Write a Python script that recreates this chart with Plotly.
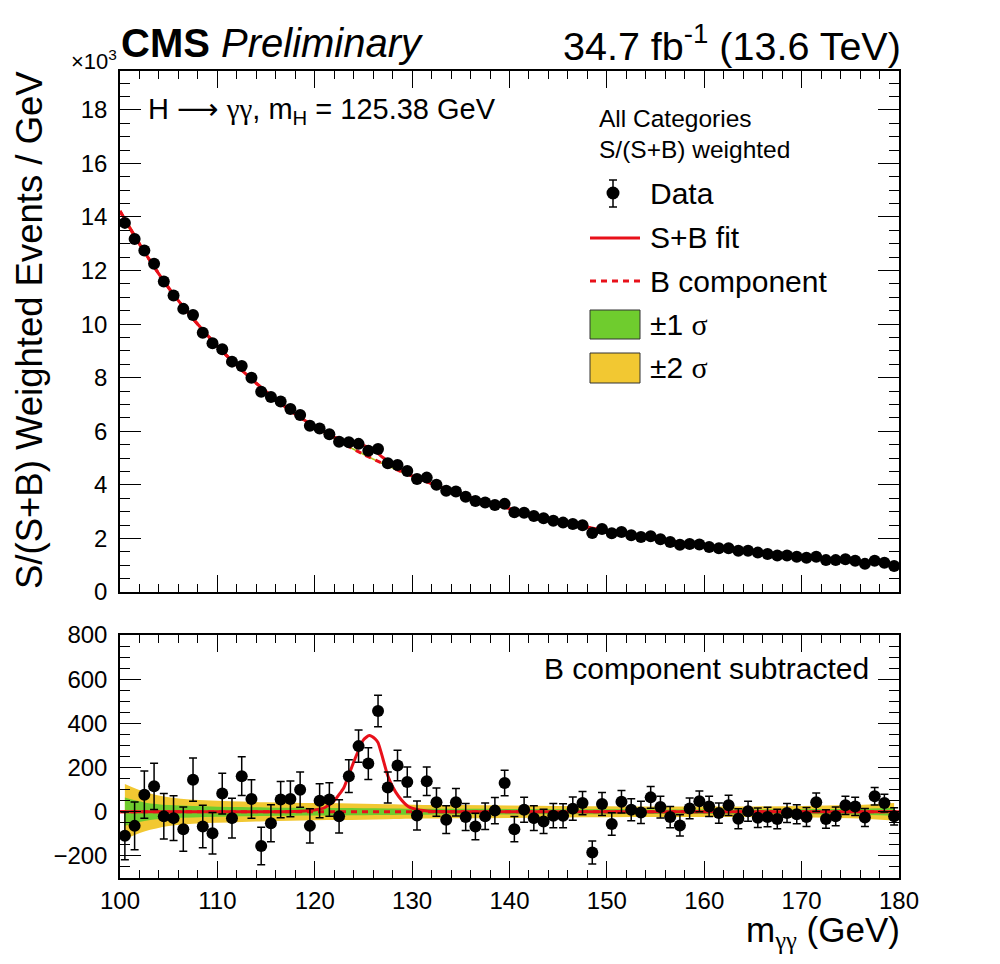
import plotly.graph_objects as go

# ---------------- data ----------------
mass = [100.5 + i for i in range(80)]  # 1 GeV bin centres

data_top = [13.78, 13.18, 12.75, 12.25, 11.59, 11.07, 10.57, 10.34, 9.68, 9.29,
            9.06, 8.60, 8.44, 8.00, 7.48, 7.28, 7.11, 6.83, 6.61, 6.21,
            6.10, 5.89, 5.61, 5.59, 5.53, 5.27, 5.34, 4.81, 4.74, 4.52,
            4.22, 4.27, 4.00, 3.78, 3.75, 3.56, 3.40, 3.34, 3.25, 3.29,
            2.98, 2.96, 2.84, 2.75, 2.66, 2.59, 2.54, 2.49, 2.20, 2.35,
            2.19, 2.24, 2.12, 2.05, 2.08, 1.97, 1.87, 1.76, 1.79, 1.77,
            1.68, 1.63, 1.63, 1.54, 1.54, 1.47, 1.42, 1.36, 1.36, 1.32,
            1.28, 1.32, 1.19, 1.19, 1.22, 1.17, 1.05, 1.17, 1.09, 0.97]

data_sub = [-109, -64, 77, 115, -21, -29, -79, 145, -67, -97,
            82, -29, 161, 58, -155, -52, 55, 58, 100, -64,
            50, 55, -21, 161, 297, 218, 456, 110, 209, 135,
            -17, 138, 43, -36, 43, -24, -67, -21, 5, 130,
            -79, 9, -29, -44, -18, -18, 14, 39, -185, 35,
            -56, 45, 9, -3, 65, 21, -24, -62, 15, 47,
            24, -6, 29, -32, 2, -27, -24, -33, -6, -11,
            -24, 43, -33, -21, 29, 24, -26, 70, 39, -21]

data_err = [108, 108, 107, 105, 103, 101, 100, 98, 96, 94,
            92, 90, 88, 87, 85, 84, 82, 81, 80, 78,
            77, 76, 75, 74, 73, 72, 71, 70, 69, 68,
            66, 65, 64, 63, 62, 61, 60, 60, 59, 58,
            57, 57, 56, 55, 55, 54, 53, 53, 52, 52,
            51, 51, 50, 50, 49, 49, 48, 48, 47, 47,
            46, 46, 46, 45, 45, 44, 44, 44, 43, 43,
            43, 42, 42, 42, 41, 41, 41, 40, 40, 39]

# background component (x10^3 events / GeV)
bkg_x = [100, 100.5, 102.5, 105, 107.5, 110, 112.5, 115, 117.5, 120, 122.5, 125,
         127.5, 130, 135, 140, 145, 150, 155, 160, 165, 170, 175, 179.5, 180]
bkg_y = [14.22, 13.90, 12.70, 11.35, 10.20, 9.18, 8.28, 7.48, 6.77, 6.16, 5.63, 5.14,
         4.71, 4.32, 3.65, 3.11, 2.65, 2.28, 1.98, 1.72, 1.51, 1.33, 1.17, 1.04, 1.03]

# uncertainty bands (events / GeV), at bkg_x[1:-1]
band1 = [64, 42, 30, 26, 23, 21, 19, 18, 17, 17, 16, 15, 14, 13, 12, 11, 11, 10, 10, 10, 11, 13, 18]
band2 = [125, 90, 65, 54, 50, 46, 43, 41, 39, 38, 36, 34, 32, 30, 28, 26, 25, 24, 24, 24, 26, 30, 40]

# S+B fit in the upper panel (x10^3)
sb_x = [100, 102.5, 105, 107.5, 110, 112.5, 115, 117.5, 119, 120, 121, 122, 123, 124, 125,
        125.6, 126.2, 127, 128, 129, 130, 131, 132.5, 135, 140, 145, 150, 155, 160, 165,
        170, 175, 180]
sb_y = [14.22, 12.70, 11.35, 10.20, 9.18, 8.28, 7.48, 6.77, 6.40, 6.17, 5.97, 5.78, 5.65,
        5.55, 5.47, 5.38, 5.26, 5.02, 4.75, 4.52, 4.34, 4.19, 3.98, 3.65, 3.11, 2.65, 2.28,
        1.98, 1.72, 1.51, 1.33, 1.17, 1.03]

# S+B fit minus B component (lower panel)
sig_x = [100, 116, 118, 119, 120, 121, 122, 123, 123.4, 124, 124.4, 125, 125.6, 126.2,
         126.5, 127, 127.5, 128, 128.6, 129.6, 130.6, 132, 134, 180]
sig_y = [0, 0, 1, 3, 8, 18, 50, 110, 155, 225, 268, 325, 345, 330, 313, 240, 163, 113,
         70, 24, 9, 2, 0, 0]

RED = "#e8101a"
GREEN = "#6fcc2e"
YELLOW = "#f2c832"
FONT = "Liberation Sans"

band_x = bkg_x[1:-1]
bkg_mid = bkg_y[1:-1]

fig = go.Figure()

# ---------- upper panel ----------
fig.add_trace(go.Scatter(x=band_x, y=[b + e / 1000 for b, e in zip(bkg_mid, band2)],
                         mode="lines", line=dict(width=0, shape="spline"), showlegend=False,
                         hoverinfo="skip", xaxis="x", yaxis="y"))
fig.add_trace(go.Scatter(x=band_x, y=[b - e / 1000 for b, e in zip(bkg_mid, band2)],
                         mode="lines", line=dict(width=0, shape="spline"), fill="tonexty",
                         fillcolor=YELLOW, showlegend=False, hoverinfo="skip", xaxis="x", yaxis="y"))
fig.add_trace(go.Scatter(x=band_x, y=[b + e / 1000 for b, e in zip(bkg_mid, band1)],
                         mode="lines", line=dict(width=0, shape="spline"), showlegend=False,
                         hoverinfo="skip", xaxis="x", yaxis="y"))
fig.add_trace(go.Scatter(x=band_x, y=[b - e / 1000 for b, e in zip(bkg_mid, band1)],
                         mode="lines", line=dict(width=0, shape="spline"), fill="tonexty",
                         fillcolor=GREEN, showlegend=False, hoverinfo="skip", xaxis="x", yaxis="y"))
fig.add_trace(go.Scatter(x=bkg_x, y=bkg_y, mode="lines",
                         line=dict(color=RED, width=3, dash="6px,5px", shape="spline", smoothing=0.8),
                         showlegend=False, xaxis="x", yaxis="y"))
fig.add_trace(go.Scatter(x=sb_x, y=sb_y, mode="lines",
                         line=dict(color=RED, width=3, shape="spline", smoothing=0.8),
                         showlegend=False, xaxis="x", yaxis="y"))
fig.add_trace(go.Scatter(x=mass, y=data_top, mode="markers",
                         marker=dict(color="black", size=12),
                         error_y=dict(type="data", array=[e / 1000 for e in data_err],
                                      color="black", thickness=1.5, width=4),
                         showlegend=False, xaxis="x", yaxis="y"))

# ---------- lower panel ----------
zero_line = [b - b for b in bkg_y]
fig.add_trace(go.Scatter(x=band_x, y=band2, mode="lines", line=dict(width=0, shape="spline"),
                         showlegend=False, hoverinfo="skip", xaxis="x2", yaxis="y2"))
fig.add_trace(go.Scatter(x=band_x, y=[-e for e in band2], mode="lines",
                         line=dict(width=0, shape="spline"), fill="tonexty", fillcolor=YELLOW,
                         showlegend=False, hoverinfo="skip", xaxis="x2", yaxis="y2"))
fig.add_trace(go.Scatter(x=band_x, y=band1, mode="lines", line=dict(width=0, shape="spline"),
                         showlegend=False, hoverinfo="skip", xaxis="x2", yaxis="y2"))
fig.add_trace(go.Scatter(x=band_x, y=[-e for e in band1], mode="lines",
                         line=dict(width=0, shape="spline"), fill="tonexty", fillcolor=GREEN,
                         showlegend=False, hoverinfo="skip", xaxis="x2", yaxis="y2"))
fig.add_trace(go.Scatter(x=bkg_x, y=zero_line, mode="lines",
                         line=dict(color=RED, width=3, dash="6px,5px"),
                         showlegend=False, xaxis="x2", yaxis="y2"))
fig.add_trace(go.Scatter(x=sig_x, y=sig_y, mode="lines",
                         line=dict(color=RED, width=3, shape="spline", smoothing=0.6),
                         showlegend=False, xaxis="x2", yaxis="y2"))
fig.add_trace(go.Scatter(x=mass, y=data_sub, mode="markers",
                         marker=dict(color="black", size=12),
                         error_y=dict(type="data", array=data_err, color="black",
                                      thickness=1.5, width=4),
                         showlegend=False, xaxis="x2", yaxis="y2"))

# ---------- layout ----------
# page pixel positions of the frame (page has an 8px body margin)
OFF = 8
L, R, T, B = 120, 899, 71, 878
W_, H_ = R - L, B - T
FIG_W, FIG_H = 1000 - OFF, 964 - OFF


def fx(p):
    return (p - L) / W_


def fy(p):
    return (B - p) / H_


top_dom = [fy(592), 1.0]
bot_dom = [0.0, fy(635)]

axis_common = dict(showline=True, linecolor="black", linewidth=1.5, mirror="allticks",
                   ticks="inside", tickcolor="black", tickwidth=1.3, showgrid=False,
                   zeroline=False, tickfont=dict(family=FONT, size=24, color="black"))

fig.update_layout(
    width=FIG_W, height=FIG_H,
    margin=dict(l=L - OFF, r=FIG_W - (R - OFF), t=T - OFF, b=FIG_H - (B - OFF)),
    paper_bgcolor="white", plot_bgcolor="white",
    showlegend=False,
    font=dict(family=FONT, color="black"),
    xaxis=dict(axis_common, domain=[0, 1], range=[100, 180], anchor="y", showticklabels=False,
               tickmode="linear", tick0=100, dtick=10, ticklen=17,
               minor=dict(dtick=2, tick0=100, ticklen=8, ticks="inside", tickcolor="black",
                          tickwidth=1.3, showgrid=False)),
    yaxis=dict(axis_common, domain=top_dom, range=[0, 19.45], anchor="x",
               tickmode="linear", tick0=0, dtick=2, ticklen=21, ticklabelstandoff=6,
               minor=dict(dtick=0.5, tick0=0, ticklen=10, ticks="inside", tickcolor="black",
                          tickwidth=1.3, showgrid=False)),
    xaxis2=dict(axis_common, domain=[0, 1], range=[100, 180], anchor="y2",
                tickmode="linear", tick0=100, dtick=10, ticklen=17, ticklabelstandoff=0,
                minor=dict(dtick=2, tick0=100, ticklen=8, ticks="inside", tickcolor="black",
                           tickwidth=1.3, showgrid=False)),
    yaxis2=dict(axis_common, domain=bot_dom, range=[-300, 800], anchor="x2",
                tickmode="linear", tick0=-200, dtick=200, ticklen=21, ticklabelstandoff=6,
                minor=dict(dtick=50, tick0=0, ticklen=10, ticks="inside", tickcolor="black",
                           tickwidth=1.3, showgrid=False)),
)

SERIF = "font-family:Liberation Serif"
ann = []


def text(x, y, s, size, xanchor="left", yanchor="middle", angle=0):
    ann.append(dict(x=fx(x), y=fy(y), xref="paper", yref="paper", text=s, showarrow=False,
                    xanchor=xanchor, yanchor=yanchor, textangle=angle,
                    font=dict(family=FONT, size=size, color="black")))


text(119, 43, "<b>CMS</b> <i>Preliminary</i>", 40)
text(903, 43, "34.7 fb<sup>-1</sup> (13.6 TeV)", 39.5, xanchor="right")
text(119, 60, "×10<sup>3</sup>", 22, xanchor="right")
text(30, 330, "S/(S+B) Weighted Events / GeV", 36.5, xanchor="center", angle=-90)
text(146, 110, "H <span style='font-family:DejaVu Sans'>⟶</span> "
               f"<span style='{SERIF}'>γγ</span>, m<sub>H</sub> = 125.38 GeV", 29)
text(597, 119, "All Categories", 24.5)
text(597, 149, "S/(S+B) weighted", 24.5)
text(648, 193, "Data", 30)
text(648, 238, "S+B fit", 30)
text(648, 281, "B component", 30)
text(648, 324, f"±1 <span style='{SERIF}'>σ</span>", 30)
text(648, 368, f"±2 <span style='{SERIF}'>σ</span>", 30)
text(871, 668, "B component subtracted", 30, xanchor="right")
text(902, 932, f"m<sub><span style='{SERIF}'>γγ</span></sub> (GeV)", 35, xanchor="right")

shapes = []
# legend: data marker with error bar
cx, cy, r = 613, 193, 6.5
shapes.append(dict(type="line", xref="paper", yref="paper", x0=fx(cx), x1=fx(cx),
                   y0=fy(180), y1=fy(207), line=dict(color="black", width=1.5)))
for yy in (180, 207):
    shapes.append(dict(type="line", xref="paper", yref="paper", x0=fx(cx - 4), x1=fx(cx + 4),
                       y0=fy(yy), y1=fy(yy), line=dict(color="black", width=1.5)))
shapes.append(dict(type="circle", xref="paper", yref="paper", x0=fx(cx - r), x1=fx(cx + r),
                   y0=fy(cy + r), y1=fy(cy - r), fillcolor="black", line=dict(width=0)))
shapes.append(dict(type="line", xref="paper", yref="paper", x0=fx(590), x1=fx(640),
                   y0=fy(238), y1=fy(238), line=dict(color=RED, width=3)))
shapes.append(dict(type="line", xref="paper", yref="paper", x0=fx(590), x1=fx(640),
                   y0=fy(281), y1=fy(281), line=dict(color=RED, width=3, dash="6px,5px")))
shapes.append(dict(type="rect", xref="paper", yref="paper", x0=fx(590), x1=fx(640),
                   y0=fy(339), y1=fy(310), fillcolor=GREEN, line=dict(color="#333333", width=1)))
shapes.append(dict(type="rect", xref="paper", yref="paper", x0=fx(590), x1=fx(640),
                   y0=fy(383), y1=fy(353), fillcolor=YELLOW, line=dict(color="#333333", width=1)))

fig.update_layout(annotations=ann, shapes=shapes)
fig.write_html("out.html")
